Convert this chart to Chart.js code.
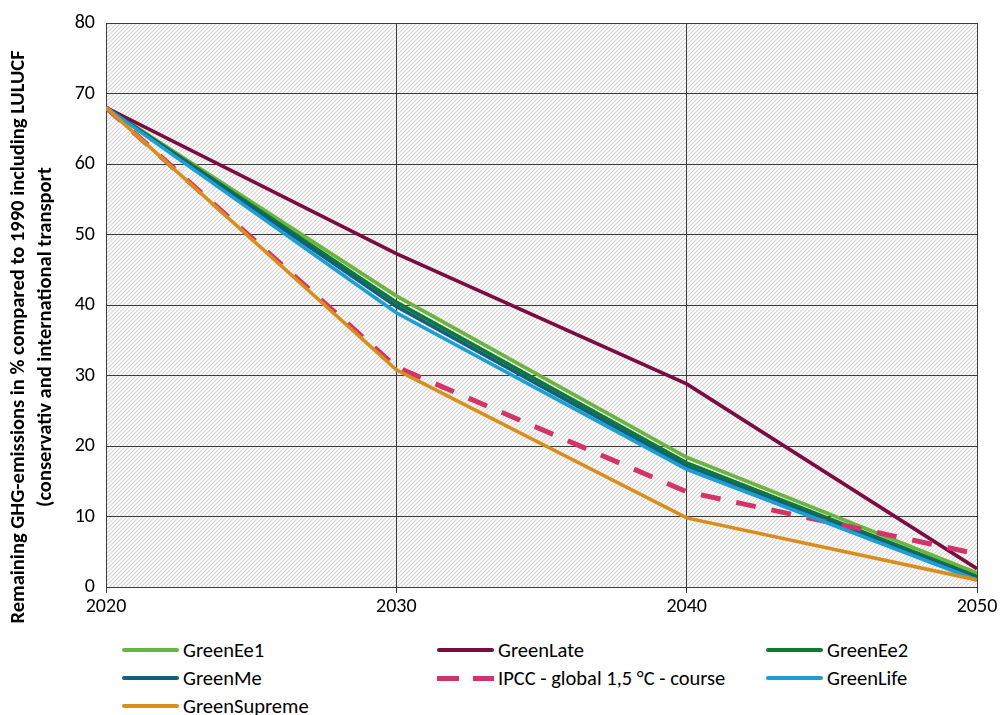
<!DOCTYPE html>
<html>
<head>
<meta charset="utf-8">
<script src="https://cdn.jsdelivr.net/npm/chart.js@4.4.1/dist/chart.umd.min.js"></script>
<style>
  body { margin: 0; background: #fff; font-family: Carlito, Lato, sans-serif; }
  #wrap { position: relative; width: 1001px; height: 715px; overflow: hidden; }
  #chartBox { position: absolute; left: 0; top: 0; width: 1001px; height: 630px; }
  #ytitle {
    position: absolute; left: 31px; top: 337px; width: 700px;
    transform: translate(-50%, -50%) rotate(-90deg);
    text-align: center; font-weight: bold; font-size: 20.5px; line-height: 27px; color: #000;
  }
  .item { position: absolute; display: flex; align-items: center; font-size: 20.5px; color: #000; white-space: nowrap; }
  .swatch { width: 57px; height: 4px; margin-right: 4px; border-radius: 2px; }
</style>
</head>
<body>
<div id="wrap">
  <div id="chartBox"><canvas id="chart"></canvas></div>
  <div id="ytitle">Remaining GHG-emissions in % compared to 1990 including LULUCF<br>(conservativ and international transport</div>
  <div id="legend"></div>
</div>
<script>
// ================= DATA =================
const years = [2020, 2030, 2040, 2050];
const yTicks = [0, 10, 20, 30, 40, 50, 60, 70, 80];

const greenEe1 = [68, 41.3, 18.4, 2.0];
const greenLate = [68, 47.3, 28.8, 2.6];
const greenEe2 = [68, 40.4, 17.6, 1.5];
const greenMe = [68, 39.8, 17.1, 1.2];
const ipcc = [68, 31.2, 13.5, 4.7];
const greenLife = [68, 38.9, 16.7, 1.0];
const greenSupreme = [68, 30.8, 9.8, 1.0];

const seriesNames = ["GreenEe1", "GreenLate", "GreenEe2", "GreenMe", "IPCC - global 1,5 °C - course", "GreenLife", "GreenSupreme"];
const seriesValues = [greenEe1, greenLate, greenEe2, greenMe, ipcc, greenLife, greenSupreme];
const seriesColors = ["#6db33f", "#7a0c3f", "#0b7a32", "#10607e", "#d23469", "#1e9fd2", "#d98e1c"];

// ================= HATCH BACKGROUND =================
const hatch = document.createElement("canvas");
hatch.width = 4;
hatch.height = 4;
const hc = hatch.getContext("2d");
hc.strokeStyle = "#d4d4d4";
hc.lineWidth = 1.1;
hc.beginPath();
hc.moveTo(0, 4); hc.lineTo(4, 0);
hc.moveTo(-1, 1); hc.lineTo(1, -1);
hc.moveTo(3, 5); hc.lineTo(5, 3);
hc.stroke();

const hatchPlugin = {
  id: "hatchBg",
  beforeDraw(chart) {
    const { ctx, chartArea } = chart;
    ctx.save();
    ctx.fillStyle = ctx.createPattern(hatch, "repeat");
    ctx.fillRect(chartArea.left, chartArea.top, chartArea.right - chartArea.left, chartArea.bottom - chartArea.top);
    ctx.restore();
  }
};

// ================= CHART =================
const datasets = seriesNames.map((name, i) => {
  const isIpcc = i === 4;
  return {
    label: name,
    data: years.map((y, j) => ({ x: y, y: seriesValues[i][j] })),
    borderColor: seriesColors[i],
    backgroundColor: seriesColors[i],
    borderWidth: isIpcc ? 5 : 3.6,
    borderDash: isIpcc ? [20, 16] : [],
    pointRadius: 0,
    tension: 0,
    fill: false,
    order: seriesNames.length - i   // later series drawn on top, like the original
  };
});

const tickFont = { family: "Carlito, Lato, sans-serif", size: 20 };

new Chart(document.getElementById("chart"), {
  type: "line",
  data: { datasets },
  options: {
    responsive: true,
    maintainAspectRatio: false,
    animation: false,
    layout: { padding: { left: 0, right: 24, top: 20, bottom: 0 } },
    plugins: {
      legend: { display: false },
      tooltip: { enabled: false }
    },
    scales: {
      x: {
        type: "linear",
        min: years[0],
        max: years[years.length - 1],
        afterBuildTicks(scale) { scale.ticks = years.map(v => ({ value: v })); },
        afterFit(scale) { scale.height = 43; },
        ticks: { color: "#000", font: tickFont, padding: 2, maxRotation: 0, callback: v => String(v) },
        grid: { color: "#3c3c3c", lineWidth: 1, tickLength: 6, drawTicks: true },
        border: { color: "#3c3c3c", width: 1 }
      },
      y: {
        min: 0,
        max: 80,
        afterBuildTicks(scale) { scale.ticks = yTicks.map(v => ({ value: v })); },
        afterFit(scale) { scale.width = 106; },
        ticks: { color: "#000", font: tickFont, padding: 11 },
        grid: { color: "#3c3c3c", lineWidth: 1, drawTicks: false },
        border: { color: "#3c3c3c", width: 1 }
      }
    }
  },
  plugins: [hatchPlugin]
});

// ================= LEGEND =================
const legend = document.getElementById("legend");
const colX = [122, 437, 766];
const rowY = [650, 678, 706];

seriesNames.forEach((name, i) => {
  const item = document.createElement("div");
  item.className = "item";
  item.style.left = colX[i % 3] + "px";
  item.style.top = (rowY[Math.floor(i / 3)] - 13) + "px";
  item.style.height = "26px";
  const sw = document.createElement("span");
  sw.className = "swatch";
  if (i === 4) {
    sw.style.height = "5px";
    sw.style.borderRadius = "0";
    sw.style.background = `repeating-linear-gradient(90deg, ${seriesColors[i]} 0 22px, transparent 22px 36px)`;
  } else {
    sw.style.background = seriesColors[i];
  }
  item.appendChild(sw);
  item.appendChild(document.createTextNode(name));
  legend.appendChild(item);
});
</script>
</body>
</html>
